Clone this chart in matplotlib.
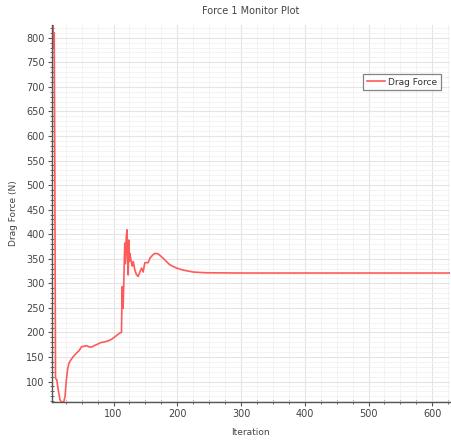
import matplotlib
matplotlib.use("Agg")
import matplotlib.pyplot as plt
from matplotlib.ticker import MultipleLocator

iterations = [3, 4, 5, 6, 7, 8, 9, 10, 11, 13, 16, 18, 20, 22, 24, 26, 28, 30, 33, 37,
              42, 46, 50, 54, 58, 63, 67, 71, 75, 79, 83, 87, 92, 97, 101, 105, 110, 112.5,
              113.5, 114.5, 115, 116, 117, 117.7, 118.5, 119.3, 120, 121.3, 122, 122.9,
              124, 124.8, 125.6, 127, 128.3, 129.5, 130.8, 132, 133.4, 136, 138.6, 141,
              144, 146.5, 149.1, 152, 154.3, 157, 161, 164.8, 170, 178, 188, 199, 209,
              225, 245, 300, 400, 500, 628]
drag_force = [840, 790, 825, 780, 810, 500, 107, 105, 104, 85, 63, 59, 58, 59, 70, 103, 125,
              137, 144, 151, 158, 163, 171, 172, 173, 170, 171, 174, 176, 179, 180, 181, 183,
              186, 190, 194, 199, 200, 293, 260, 249, 293, 350, 382, 340, 355, 395, 409,
              360, 317, 388, 345, 361, 350, 341, 335, 344, 338, 327, 318, 314, 322, 331,
              323, 342, 342, 342, 351, 357, 361, 360, 351, 338, 331, 327, 323, 321.5, 321,
              321, 321, 321]

plt.rcParams["font.family"] = ["DejaVu Sans"]
fig = plt.figure(figsize=(4.51, 4.44), dpi=100)
ax = fig.add_axes([0.1146, 0.0953, 0.8834, 0.8484])

ax.plot(iterations, drag_force, color="#ff5a5a", lw=1.2, label="Drag Force")

ax.set_xlim(3, 628)
ax.set_ylim(59, 826)
ax.xaxis.set_major_locator(MultipleLocator(100))
ax.xaxis.set_minor_locator(MultipleLocator(25))
ax.yaxis.set_major_locator(MultipleLocator(50))
ax.yaxis.set_minor_locator(MultipleLocator(10))

ax.grid(which="major", color="#e4e4e4", lw=0.8)
ax.grid(which="minor", color="#f1f1f1", lw=0.6)
ax.set_axisbelow(True)

for s in ["top", "right"]:
    ax.spines[s].set_visible(False)
for s in ["left", "bottom"]:
    ax.spines[s].set_color("#555555")
    ax.spines[s].set_linewidth(1.0)

ax.tick_params(which="major", direction="out", length=3, width=0.8, colors="#555555",
               labelsize=7, labelcolor="#444444", pad=2)
ax.tick_params(which="minor", direction="inout", length=3, width=0.6, colors="#555555")

ax.set_title("Force 1 Monitor Plot", fontsize=7, color="#444444", pad=8)
ax.set_xlabel("Iteration", fontsize=6.5, color="#444444", labelpad=7)
ax.set_ylabel("Drag Force (N)", fontsize=6.5, color="#444444", labelpad=6)

leg = ax.legend(loc="upper right", bbox_to_anchor=(0.977, 0.87), borderaxespad=0,
                fontsize=6.5, frameon=True, fancybox=False, handlelength=2.0,
                handletextpad=0.4, borderpad=0.4)
leg.get_frame().set_edgecolor("#666666")
leg.get_frame().set_linewidth(0.9)
for t in leg.get_texts():
    t.set_color("#333333")

fig.savefig("out.png", dpi=100)
